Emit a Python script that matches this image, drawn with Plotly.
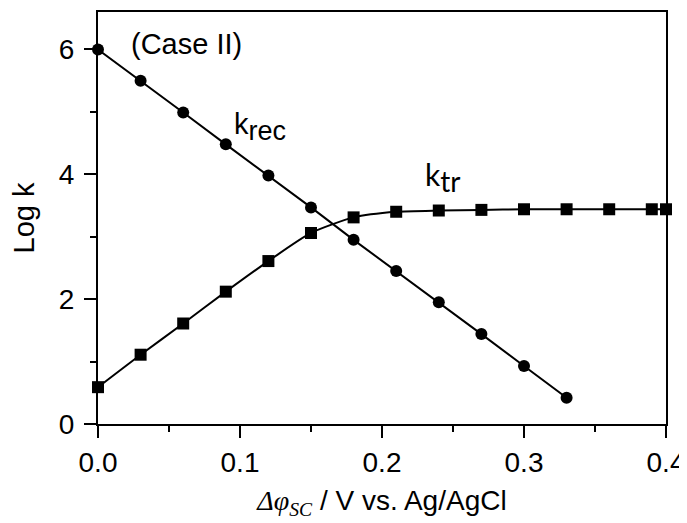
import plotly.graph_objects as go

# Data
x_rec = [0.00, 0.03, 0.06, 0.09, 0.12, 0.15, 0.18, 0.21, 0.24, 0.27, 0.30, 0.33]
logk_rec = [6.00, 5.50, 4.99, 4.48, 3.98, 3.47, 2.95, 2.45, 1.95, 1.44, 0.93, 0.42]

x_tr = [0.00, 0.03, 0.06, 0.09, 0.12, 0.15, 0.18, 0.21, 0.24, 0.27, 0.30, 0.33, 0.36, 0.39, 0.40]
logk_tr = [0.59, 1.11, 1.61, 2.12, 2.61, 3.06, 3.31, 3.40, 3.42, 3.43, 3.44, 3.44, 3.44, 3.44, 3.44]

x_ticks = [0.0, 0.1, 0.2, 0.3, 0.4]
x_ticklabels = ["0.0", "0.1", "0.2", "0.3", "0.4"]
y_ticks = [0, 2, 4, 6]

FONT = "Arial, 'Liberation Sans', sans-serif"

fig = go.Figure()
fig.add_trace(go.Scatter(
    x=x_rec, y=logk_rec, mode="lines+markers",
    line=dict(color="black", width=2),
    marker=dict(symbol="circle", size=12, color="black"),
    cliponaxis=False, showlegend=False))
fig.add_trace(go.Scatter(
    x=x_tr, y=logk_tr, mode="lines+markers",
    line=dict(color="black", width=2, shape="spline", smoothing=0.6),
    marker=dict(symbol="square", size=12, color="black"),
    cliponaxis=False, showlegend=False))

fig.add_annotation(x=0.0215, y=6.09, xref="x", yref="y", text="(Case II)",
                   showarrow=False, xanchor="left", yanchor="middle",
                   font=dict(family=FONT, size=29, color="black"))
fig.add_annotation(x=0.0945, y=4.75, xref="x", yref="y",
                   text="k<sub><span style='font-size:27px'>rec</span></sub>",
                   showarrow=False, xanchor="left", yanchor="middle",
                   font=dict(family=FONT, size=29, color="black"))
fig.add_annotation(x=0.229, y=3.96, xref="x", yref="y",
                   text="k<sub><span style='font-size:28px'>tr</span></sub>",
                   showarrow=False, xanchor="left", yanchor="middle",
                   font=dict(family="Lato, 'Open Sans', sans-serif", size=30, color="black"))

xtitle = ("<span style='font-family:\"Liberation Serif\", \"Times New Roman\", serif'>"
          "<i>Δφ<sub>SC</sub></i></span> / V vs. Ag/AgCl")

fig.update_layout(
    width=679, height=515,
    margin=dict(l=90, r=21, t=2, b=99),
    paper_bgcolor="white", plot_bgcolor="white",
    font=dict(family=FONT, color="black"),
    xaxis=dict(
        range=[0, 0.4], tickvals=x_ticks, ticktext=x_ticklabels,
        ticks="outside", ticklen=12, tickwidth=2, tickcolor="black",
        minor=dict(dtick=0.05, ticks="outside", ticklen=6, tickwidth=2, tickcolor="black"),
        showline=True, linewidth=2, linecolor="black", mirror=True,
        showgrid=False, zeroline=False,
        tickfont=dict(family=FONT, size=28, color="black"),
        title=dict(text=xtitle, font=dict(family=FONT, size=28, color="black"), standoff=14),
    ),
    yaxis=dict(
        range=[0, 6.6], tickvals=y_ticks,
        ticks="outside", ticklen=12, tickwidth=2, tickcolor="black",
        ticklabelstandoff=4,
        minor=dict(dtick=1, ticks="outside", ticklen=6, tickwidth=2, tickcolor="black"),
        showline=True, linewidth=2, linecolor="black", mirror=True,
        showgrid=False, zeroline=False,
        tickfont=dict(family=FONT, size=28, color="black"),
        title=dict(text="Log k", font=dict(family=FONT, size=29, color="black"), standoff=16),
    ),
)

fig.write_html("out.html")
